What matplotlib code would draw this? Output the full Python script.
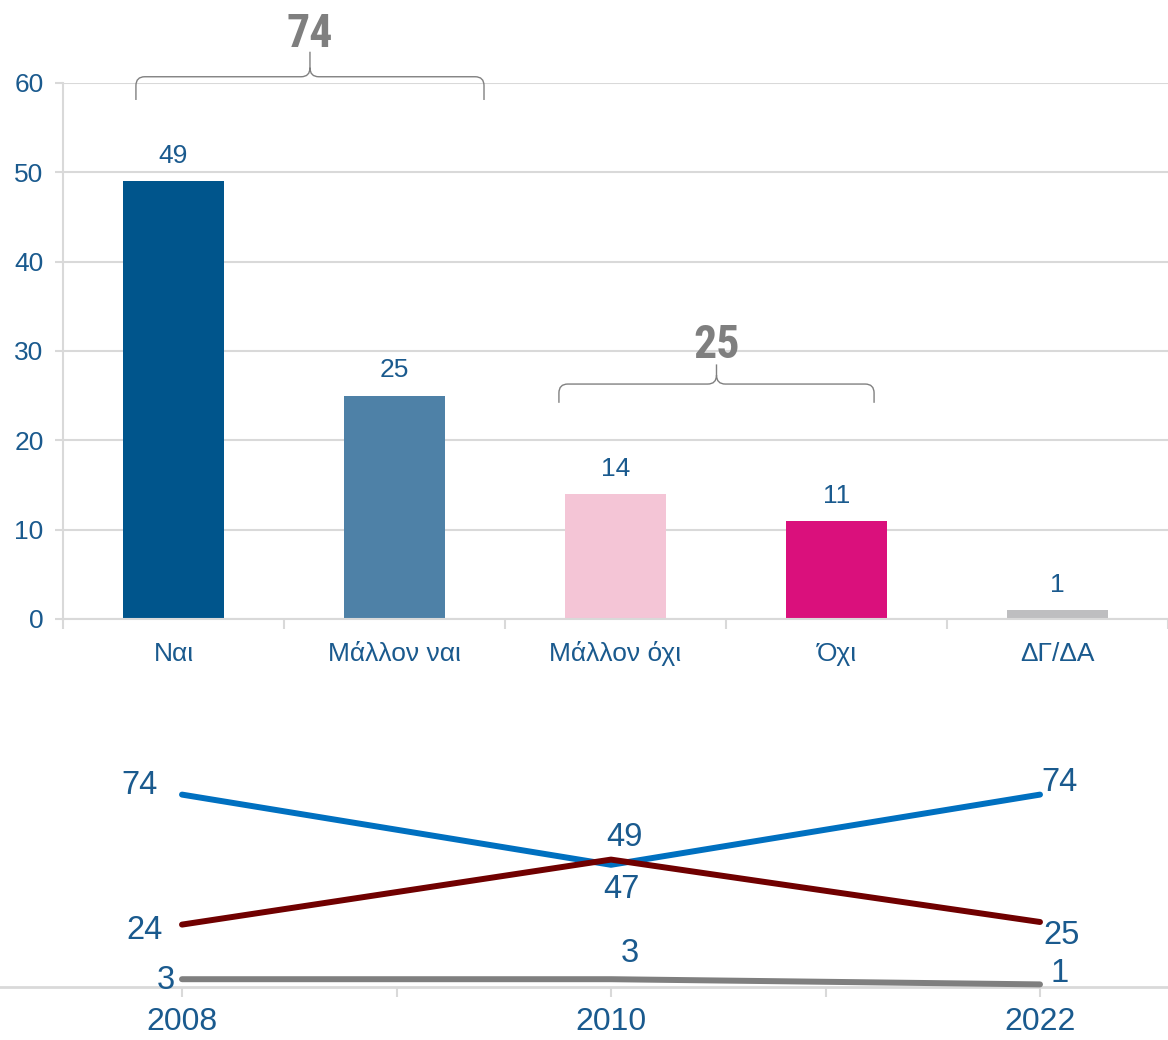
import matplotlib
matplotlib.use("Agg")
import matplotlib.pyplot as plt
from matplotlib.path import Path
from matplotlib.patches import PathPatch
from matplotlib.ticker import FixedLocator
import numpy as np

# ---------------- data ----------------
categories = ["Ναι", "Μάλλον ναι", "Μάλλον όχι", "Όχι", "ΔΓ/ΔΑ"]
values = [49, 25, 14, 11, 1]
bar_colors = ["#00558C", "#4E81A7", "#F4C5D6", "#DA107C", "#BEBEC0"]
yticks = [0, 10, 20, 30, 40, 50, 60]

group_totals = [74, 25]
group_members = [(0, 1), (2, 3)]

years = ["2008", "2010", "2022"]
series_blue = [74, 47, 74]
series_red = [24, 49, 25]
series_gray = [3, 3, 1]

TXT = "#1A5A8E"
GRID = "#D9D9D9"
SANS = ["Liberation Sans", "DejaVu Sans"]
NARROW = ["Roboto Condensed", "Open Sans Condensed", "Liberation Sans Narrow",
          "Liberation Sans", "DejaVu Sans"]
plt.rcParams["font.family"] = SANS

W, H = 1168, 1040
fig = plt.figure(figsize=(W / 100, H / 100), dpi=100)

# ---------------- top bar chart ----------------
ax = fig.add_axes([63 / W, 1 - 619 / H, 1 - 63 / W, (619 - 83) / H])
x = np.arange(len(categories))
ax.bar(x, values, width=0.46, color=bar_colors, zorder=2)
ax.set_xlim(-0.5, len(categories) - 0.5)
ax.set_ylim(0, 60)
ax.set_yticks(yticks)
ax.yaxis.grid(True, color=GRID, linewidth=1.5, zorder=1)
ax.set_axisbelow(True)
for s in ["top", "right"]:
    ax.spines[s].set_visible(False)
for s in ["left", "bottom"]:
    ax.spines[s].set_color(GRID)
    ax.spines[s].set_linewidth(1.5)
ax.tick_params(axis="y", colors=GRID, length=6, width=1.5, pad=8,
               labelsize=19, labelcolor=TXT)
ax.xaxis.set_major_locator(FixedLocator(np.arange(len(categories) + 1) - 0.5))
ax.xaxis.set_minor_locator(FixedLocator(x))
ax.set_xticklabels([], minor=False)
ax.set_xticklabels(categories, minor=True)
ax.tick_params(axis="x", which="major", colors=GRID, length=7, width=1.5)
ax.tick_params(axis="x", which="minor", length=0, pad=30, labelsize=19,
               labelcolor=TXT)
for lbl in ax.get_xticklabels(minor=True):
    lbl.set_verticalalignment("baseline")

for xi, v in zip(x, values):
    ax.annotate(str(v), (xi, v), xytext=(0, 9.5), textcoords="offset points",
                ha="center", va="bottom", fontsize=19, color=TXT)


def brace(axis, x0, x1, ybot, yh, ytip, rx=0.04, ry=1.0, color="#808080"):
    xm = (x0 + x1) / 2
    verts = [(x0, ybot), (x0, yh - ry), (x0, yh), (x0 + rx, yh),
             (xm - rx, yh), (xm, yh), (xm, yh + ry), (xm, ytip),
             (xm, yh + ry), (xm, yh), (xm + rx, yh),
             (x1 - rx, yh), (x1, yh), (x1, yh - ry), (x1, ybot)]
    codes = [Path.MOVETO, Path.LINETO, Path.CURVE3, Path.CURVE3,
             Path.LINETO, Path.CURVE3, Path.CURVE3, Path.LINETO,
             Path.MOVETO, Path.CURVE3, Path.CURVE3,
             Path.LINETO, Path.CURVE3, Path.CURVE3, Path.LINETO]
    p = PathPatch(Path(verts, codes), fill=False, edgecolor=color,
                  linewidth=1.0, clip_on=False, zorder=5)
    axis.add_patch(p)
    return xm


brace_spans = [(-0.17, 0.405), (-0.256, 0.17)]
brace_levels = [(58.1, 60.7, 63.5, 64.0), (24.2, 26.3, 28.5, 29.2)]
for (a, b), (l, r), (yb, yh, yt, ylab), tot in zip(group_members, brace_spans,
                                                   brace_levels, group_totals):
    xm = brace(ax, a + l, b + r, yb, yh, yt)
    ax.text(xm, ylab, str(tot), ha="center", va="baseline", fontsize=33,
            fontweight="bold", color="#7F7F7F", family=NARROW, clip_on=False)

# ---------------- bottom line chart ----------------
ax2 = fig.add_axes([0, 1 - 987 / H, 1, 208 / H])
xs = np.arange(len(years))
px_per_unit = 429.0
ax2.set_xlim(-182 / px_per_unit, (W - 182) / px_per_unit)
ax2.set_ylim(0, 80)
ax2.plot(xs, series_blue, color="#0070C0", linewidth=4.3, solid_capstyle="round",
         solid_joinstyle="round", zorder=3)
ax2.plot(xs, series_red, color="#700000", linewidth=4.3, solid_capstyle="round",
         solid_joinstyle="round", zorder=4)
ax2.plot(xs, series_gray, color="#7F7F7F", linewidth=4.3, solid_capstyle="round",
         solid_joinstyle="round", zorder=3, clip_on=False)
for s in ["top", "right", "left"]:
    ax2.spines[s].set_visible(False)
ax2.spines["bottom"].set_color(GRID)
ax2.spines["bottom"].set_linewidth(2)
ax2.set_yticks([])
ax2.set_xticks(xs)
ax2.set_xticklabels(years)
ax2.xaxis.set_minor_locator(FixedLocator([0.5, 1.5]))
ax2.tick_params(axis="x", which="both", colors=GRID, length=7, width=1.5)
ax2.tick_params(axis="x", which="major", pad=7.5, labelsize=23,
                labelcolor=TXT)

pt = 72 / 100.0
label_offsets = {
    "blue": [(-42, 9), (10, -25), (20, 12)],
    "red": [(-37, -6), (13, 22), (22, -14)],
    "gray": [(-16, -1), (19, 26), (20, 11)],
}
for key, ser in [("blue", series_blue), ("red", series_red), ("gray", series_gray)]:
    for xi, v, (dx, dy) in zip(xs, ser, label_offsets[key]):
        ax2.annotate(str(v), (xi, v), xytext=(dx * pt, dy * pt),
                     textcoords="offset points", ha="center", va="center",
                     fontsize=23.5, color=TXT, annotation_clip=False)

fig.savefig("out.png", dpi=100)
